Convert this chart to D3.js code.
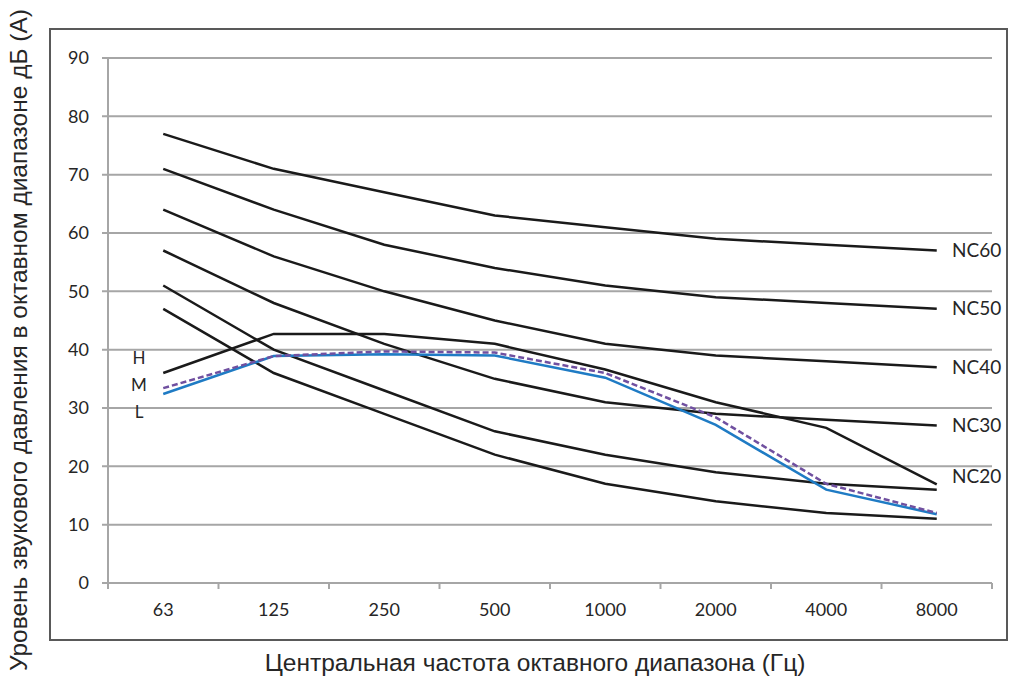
<!DOCTYPE html>
<meta charset="utf-8">
<script src="https://d3js.org/d3.v7.min.js"></script>
<style>
  body { margin: 0; background: #fff; }
  text { fill: #262626; }
</style>
<div id="chart"></div>
<script>
// octave band centre frequencies
var bands = ["63", "125", "250", "500", "1000", "2000", "4000", "8000"];

// NC curves (dB)
var nc60 = [77, 71, 67, 63, 61, 59, 58, 57];
var nc50 = [71, 64, 58, 54, 51, 49, 48, 47];
var nc40 = [64, 56, 50, 45, 41, 39, 38, 37];
var nc30 = [57, 48, 41, 35, 31, 29, 28, 27];
var nc20 = [51, 40, 33, 26, 22, 19, 17, 16];
var nc15 = [47, 36, 29, 22, 17, 14, 12, 11];

// unit at H / M / L fan speed
var speedH = [36, 42.7, 42.7, 41, 36.6, 31, 26.6, 16.9];
var speedM = [33.4, 38.9, 39.7, 39.5, 36, 28.4, 17, 12];
var speedL = [32.4, 38.9, 39.2, 39, 35.2, 27.1, 16, 11.8];

var ncNames = ["NC60", "NC50", "NC40", "NC30", "NC20"];
var ncLabelAt = [57, 47, 37, 27, 18.3];
var speedNames = ["H", "M", "L"];
var yTicks = [0, 10, 20, 30, 40, 50, 60, 70, 80, 90];

var W = 1009, H = 682;
var svg = d3.select("#chart").append("svg")
    .attr("width", W)
    .attr("height", H);

// outer chart border
svg.append("rect")
    .attr("x", 50).attr("y", 29)
    .attr("width", 957).attr("height", 611)
    .attr("fill", "none")
    .attr("stroke", "#595959")
    .attr("stroke-width", 2);

var x = d3.scaleBand().domain(bands).range([108, 992]);
var y = d3.scaleLinear().domain([0, 90]).range([583, 58]);

// horizontal gridlines with small ticks left of the axis
svg.append("g").selectAll("line")
    .data(yTicks)
    .join("line")
    .attr("x1", 102).attr("x2", 992)
    .attr("y1", d => y(d)).attr("y2", d => y(d))
    .attr("stroke", "#a6a6a6")
    .attr("stroke-width", 2);

// y axis line
svg.append("line")
    .attr("x1", 108).attr("x2", 108)
    .attr("y1", y(90)).attr("y2", y(0))
    .attr("stroke", "#a6a6a6").attr("stroke-width", 2);

// x axis ticks at band edges
var edges = bands.map(b => x(b)).concat([x.range()[1]]);
svg.append("g").selectAll("line")
    .data(edges)
    .join("line")
    .attr("x1", d => d).attr("x2", d => d)
    .attr("y1", y(0)).attr("y2", y(0) + 6)
    .attr("stroke", "#a6a6a6").attr("stroke-width", 2);

// tick labels
svg.append("g").selectAll("text")
    .data(yTicks)
    .join("text")
    .attr("x", 89)
    .attr("y", d => y(d))
    .attr("dy", "0.35em")
    .attr("text-anchor", "end")
    .attr("font-family", "Lato, sans-serif")
    .attr("font-size", 18)
    .text(d => d);

svg.append("g").selectAll("text")
    .data(bands)
    .join("text")
    .attr("x", d => x(d) + x.bandwidth() / 2)
    .attr("y", 610)
    .attr("dy", "0.35em")
    .attr("text-anchor", "middle")
    .attr("font-family", "Lato, sans-serif")
    .attr("font-size", 18)
    .text(d => d);

var line = d3.line()
    .x((d, i) => x(bands[i]) + x.bandwidth() / 2)
    .y(d => y(d));

// black NC curves and the H curve
[nc60, nc50, nc40, nc30, nc20, nc15, speedH].forEach(function(s) {
  svg.append("path")
      .attr("d", line(s))
      .attr("fill", "none")
      .attr("stroke", "#1a1a1a")
      .attr("stroke-width", 2.5);
});

svg.append("path")
    .attr("d", line(speedL))
    .attr("fill", "none")
    .attr("stroke", "#1f7bc4")
    .attr("stroke-width", 2.5);

svg.append("path")
    .attr("d", line(speedM))
    .attr("fill", "none")
    .attr("stroke", "#7050a0")
    .attr("stroke-width", 2.5)
    .attr("stroke-dasharray", "6,3");

// NC labels at the right
svg.append("g").selectAll("text")
    .data(ncNames)
    .join("text")
    .attr("x", 952)
    .attr("y", (d, i) => y(ncLabelAt[i]))
    .attr("dy", "0.35em")
    .attr("font-family", "Lato, sans-serif")
    .attr("font-size", 19)
    .text(d => d);

// H / M / L labels
svg.append("g").selectAll("text")
    .data(speedNames)
    .join("text")
    .attr("x", 139)
    .attr("y", (d, i) => 358 + i * 27)
    .attr("dy", "0.35em")
    .attr("text-anchor", "middle")
    .attr("font-family", "Lato, sans-serif")
    .attr("font-size", 17)
    .text(d => d);

// axis titles
svg.append("text")
    .attr("x", 535)
    .attr("y", 662)
    .attr("dy", "0.35em")
    .attr("text-anchor", "middle")
    .attr("font-family", "Liberation Sans, Arial, sans-serif")
    .attr("font-size", 24.5)
    .text("Центральная частота октавного диапазона (Гц)");

svg.append("text")
    .attr("transform", "translate(18,340) rotate(-90)")
    .attr("dy", "0.35em")
    .attr("text-anchor", "middle")
    .attr("font-family", "Liberation Sans, Arial, sans-serif")
    .attr("font-size", 24.5)
    .text("Уровень звукового давления в октавном диапазоне дБ (А)");
</script>
